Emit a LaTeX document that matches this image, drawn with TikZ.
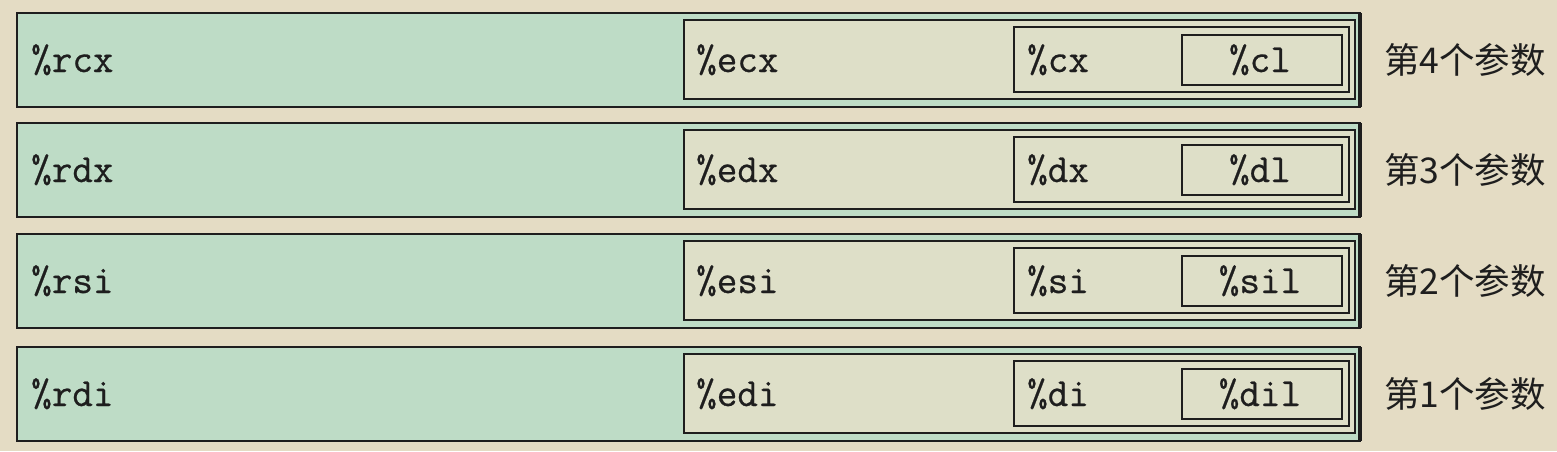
\documentclass[tikz,border=0pt]{standalone}
\usepackage{fontspec}
\newfontfamily\cjk{Noto Sans CJK SC}
\newfontfamily\regfont{Latin Modern Mono}[FakeBold=0.6]
\definecolor{bgc}{RGB}{228,220,196}
\definecolor{greenc}{RGB}{190,220,198}
\definecolor{innerc}{RGB}{222,223,200}
\definecolor{ink}{RGB}{30,30,30}
\begin{document}
\begin{tikzpicture}[x=1pt,y=-1pt,
  box/.style={draw=ink, rectangle, anchor=north west, inner sep=0pt, outer sep=0pt},
  outerbox/.style={box, fill=greenc, line width=2.2pt, minimum width=1343pt, minimum height=94pt},
  ebox/.style={box, fill=innerc, line width=1.8pt, minimum width=671pt, minimum height=79pt},
  xbox/.style={box, fill=innerc, line width=1.6pt, minimum width=335pt, minimum height=65pt},
  lbox/.style={box, fill=innerc, line width=1.6pt, minimum width=160pt, minimum height=50pt},
  reg/.style={font=\fontsize{40}{42}\selectfont\regfont, text=ink, inner sep=0pt},
  lab/.style={font=\fontsize{35.5}{40}\selectfont\cjk, text=ink, inner sep=0pt, anchor=west}]
\fill[bgc] (0,0) rectangle (1557,451);
\useasboundingbox (0,0) rectangle (1557,451);
\foreach \i/\T/\R/\E/\X/\L/\n in {1/13/rcx/ecx/cx/cl/4, 2/123/rdx/edx/dx/dl/3, 3/234/rsi/esi/si/sil/2, 4/347/rdi/edi/di/dil/1}{
  \node[outerbox] (r\i) at (17,\T) {};
  \draw[ink, line width=3.2pt] (r\i.north east) -- (r\i.south east);
  \node[ebox] (e\i) at (684,\T+7) {};
  \node[xbox] (x\i) at (1014,\T+14) {};
  \node[lbox] (l\i) at (1182,\T+22) {};
  \node[reg, anchor=base west] (tr\i) at (31,\T+59) {\%\R};
  \node[reg, anchor=base west] (te\i) at (696,\T+59) {\%\E};
  \node[reg, anchor=base west] (tx\i) at (1027,\T+59) {\%\X};
  \node[reg, anchor=base] (tl\i) at (1260,\T+59) {\%\L};
  \node[lab] (lab\i) at (1384,\T+47) {第\n 个参数};
}
\end{tikzpicture}
\end{document}
